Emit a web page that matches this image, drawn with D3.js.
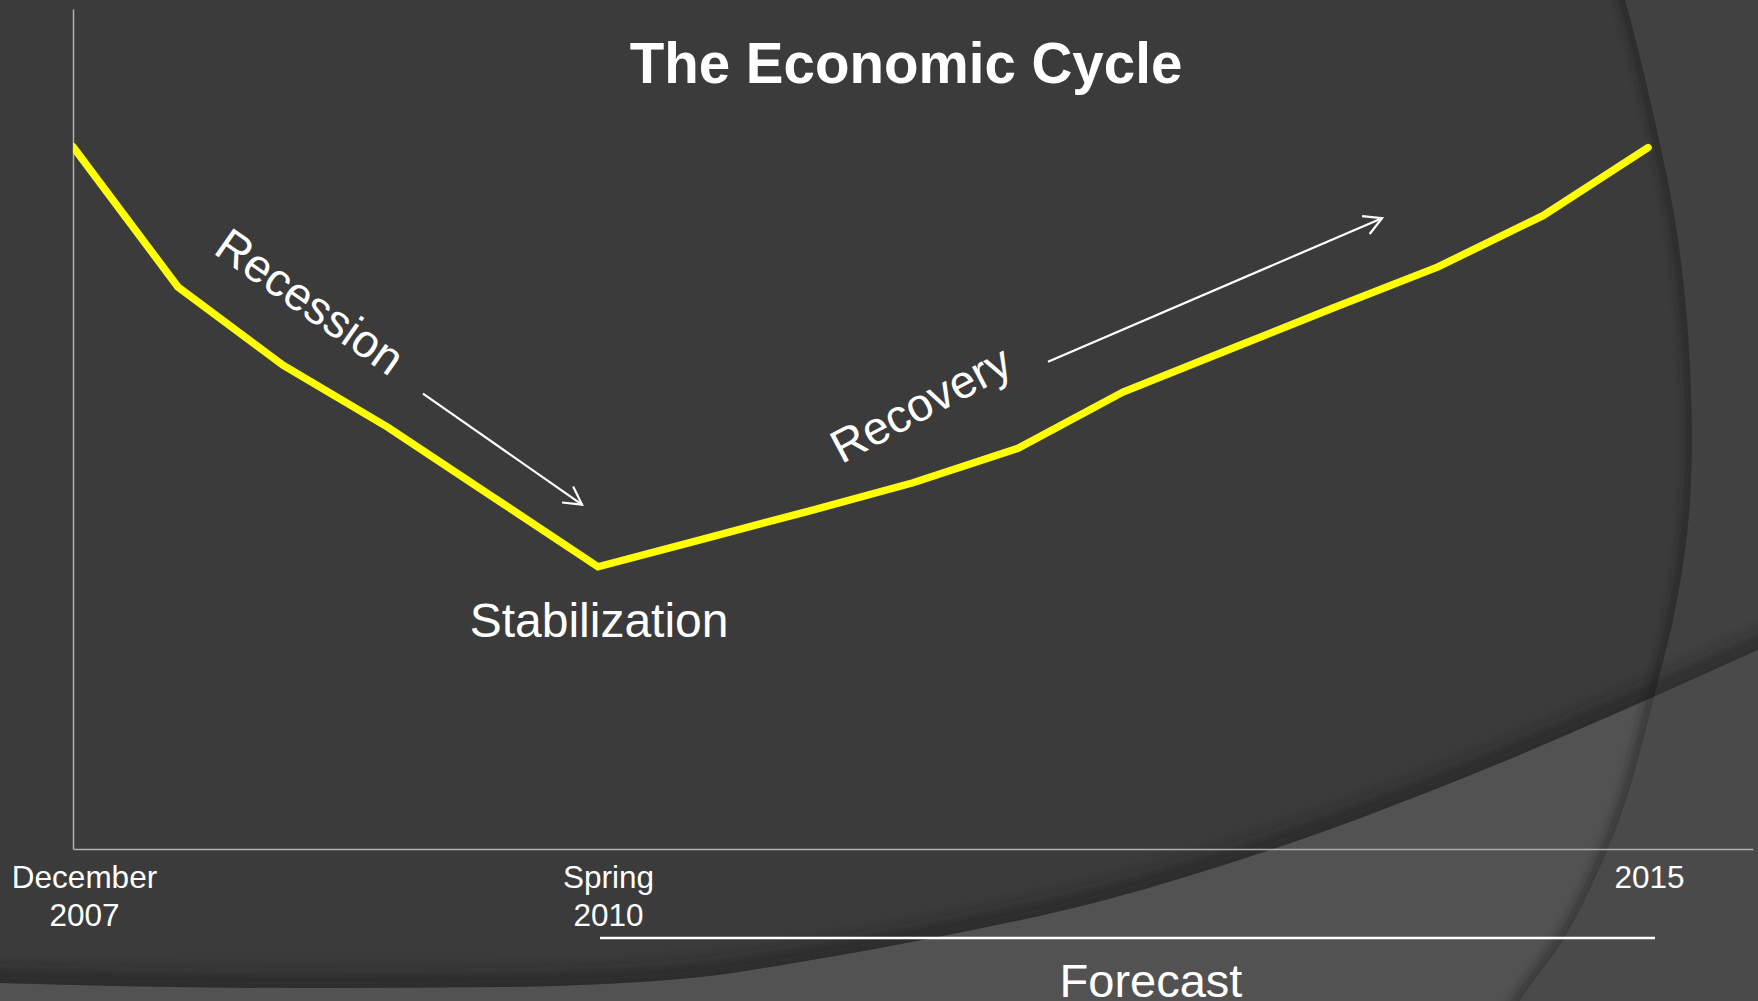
<!DOCTYPE html>
<html><head><meta charset="utf-8">
<script src="https://cdn.jsdelivr.net/npm/d3@7"></script>
<style>html,body{margin:0;padding:0;background:#3b3b3b;overflow:hidden}svg{display:block}</style>
</head><body>
<svg id="chart" width="1758" height="1001"></svg>
<script>
// ---------- data ----------
const chartTitle = "The Economic Cycle";
const periods = [0,1,2,3,4,5,6,7,8,9,10,11,12,13,14,15];
const values = [83.6,66.9,57.6,50.2,41.9,33.6,36.9,40.2,43.6,47.7,54.4,59.4,64.4,69.3,75.4,83.5];
const tickValues = [0,5,15];
const tickLabels = [["December","2007"],["Spring","2010"],["2015"]];
const phaseNames = ["Recession","Recovery","Stabilization"];
const phasePos = [[2.17,63.6],[8.145,51.3],[5.01,25.2]];
const phaseAngles = [35,-28,0];
const arrowFrom = [[3.333,54.2],[9.286,58.0]];
const arrowTo = [[4.848,41.0],[12.467,75.1]];
const forecastSpan = [5,15];
const forecastLabel = "Forecast";
// background decoration outlines (pixels)
const arcPts = [[1600,-80],[1625,0],[1650,100],[1677,233],[1690,367],[1690,500],[1677,600],[1653,700],[1620,817],[1567,933],[1520,1000],[1485,1060]];
const floorPts = [[-30,982],[0,983],[300,988],[500,987],[700,977],[800,962],[922,940],[1105,900],[1276,848],[1500,763],[1653,697],[1758,650],[1800,632]];

// ---------- setup ----------
const W = 1758, H = 1001;
const font = '"Liberation Sans", Arial, Helvetica, sans-serif';
const svg = d3.select("#chart");
const x = d3.scaleLinear().domain([0,16]).range([73,1753]);
const y = d3.scaleLinear().domain([0,100]).range([849,9]);

const defs = svg.append("defs");
function blur(id, sd){
  defs.append("filter").attr("id",id)
    .attr("x","-20%").attr("y","-50%").attr("width","140%").attr("height","200%")
    .append("feGaussianBlur").attr("stdDeviation",sd);
}
blur("blurFloor",9); blur("blurArc",5);

const arcLine = d3.line().curve(d3.curveCatmullRom)(arcPts);
const floorLine = d3.line().curve(d3.curveMonotoneX)(floorPts);
const insideArc = arcLine + "L-100,1100L-100,-100Z";
const outsideArc = arcLine + "L1900,1100L1900,-100Z";
const aboveFloor = floorLine + "L1900,-100L-100,-100Z";
const belowFloor = floorLine + "L1900,1100L-100,1100Z";
function clip(id,d){ defs.append("clipPath").attr("id",id).append("path").attr("d",d); }
clip("cInside",insideArc); clip("cOutside",outsideArc); clip("cAbove",aboveFloor);
defs.append("clipPath").attr("id","cPlot").append("rect").attr("x",x(0)).attr("y",0).attr("width",W).attr("height",H);

// ---------- background ----------
const bg = svg.append("g");
bg.append("rect").attr("width",W).attr("height",H).attr("fill","#3b3b3b");
bg.append("path").attr("d",outsideArc).attr("fill","#414141");
bg.append("g").attr("clip-path","url(#cInside)").append("path").attr("d",belowFloor).attr("fill","#525252");
bg.append("g").attr("clip-path","url(#cOutside)").append("path").attr("d",belowFloor).attr("fill","#4a4a4a");
bg.append("g").attr("clip-path","url(#cAbove)").append("path").attr("d",floorLine)
  .attr("fill","none").attr("stroke","#151515").attr("stroke-width",26).attr("opacity",0.45).attr("filter","url(#blurFloor)");
bg.append("g").attr("clip-path","url(#cInside)").append("path").attr("d",arcLine)
  .attr("fill","none").attr("stroke","#151515").attr("stroke-width",14).attr("opacity",0.4).attr("filter","url(#blurArc)");

// ---------- title ----------
svg.append("text").attr("x",906).attr("y",83).attr("text-anchor","middle")
  .attr("font-family",font).attr("font-weight","bold").attr("font-size",56.5).attr("fill","#ffffff")
  .text(chartTitle);

// ---------- axes ----------
const gy = svg.append("g").attr("transform",`translate(${x(0)},0)`)
  .call(d3.axisLeft(y).tickValues([]).tickSizeOuter(0));
gy.select(".domain").attr("stroke","#b0b0b0").attr("stroke-width",1.5);

const gx = svg.append("g").attr("transform",`translate(0,${y(0)})`)
  .call(d3.axisBottom(x).tickValues(tickValues).tickSize(0).tickSizeOuter(0).tickFormat(""));
gx.select(".domain").attr("stroke","#b0b0b0").attr("stroke-width",1.5);
gx.selectAll(".tick text").remove();
const tickDx = [11,10,1];
gx.selectAll(".tick").each(function(d,i){
  const t = d3.select(this).append("text").attr("text-anchor","middle")
    .attr("font-family",font).attr("font-size",31.5).attr("fill","#ffffff");
  tickLabels[i].forEach((ln,j)=>{
    t.append("tspan").attr("x",tickDx[i]).attr("y",39+j*38).text(ln);
  });
});

// ---------- data line ----------
const line = d3.line().x((d,i)=>x(periods[i])).y(d=>y(d)).curve(d3.curveLinear);
svg.append("g").attr("clip-path","url(#cPlot)").append("path")
  .datum(values).attr("d",line)
  .attr("fill","none").attr("stroke","#ffff00").attr("stroke-width",7.5)
  .attr("stroke-linejoin","miter").attr("stroke-linecap","round");

// ---------- annotations ----------
defs.append("marker").attr("id","arrowHead").attr("markerUnits","userSpaceOnUse")
  .attr("viewBox","-20 -12 24 24").attr("refX",0).attr("refY",0)
  .attr("markerWidth",24).attr("markerHeight",24).attr("orient","auto")
  .append("path").attr("d","M-17.6,-9.7L0,0L-17.6,9.7")
  .attr("fill","none").attr("stroke","#ffffff").attr("stroke-width",2.2);

arrowFrom.forEach((f,i)=>{
  svg.append("line")
    .attr("x1",x(f[0])).attr("y1",y(f[1]))
    .attr("x2",x(arrowTo[i][0])).attr("y2",y(arrowTo[i][1]))
    .attr("stroke","#ffffff").attr("stroke-width",2.2)
    .attr("marker-end","url(#arrowHead)");
});

const phaseSizes = [46.5,46.5,48];
phaseNames.forEach((name,i)=>{
  const px = x(phasePos[i][0]), py = y(phasePos[i][1]);
  svg.append("text")
    .attr("transform",`translate(${px},${py}) rotate(${phaseAngles[i]})`)
    .attr("text-anchor","middle")
    .attr("font-family",font).attr("font-size",phaseSizes[i]).attr("fill","#ffffff")
    .text(name);
});

// ---------- forecast bracket ----------
svg.append("line")
  .attr("x1",x(forecastSpan[0])+2).attr("x2",x(forecastSpan[1])+7)
  .attr("y1",y(0)+89).attr("y2",y(0)+89)
  .attr("stroke","#ffffff").attr("stroke-width",2.5);
svg.append("text")
  .attr("x",(x(forecastSpan[0])+x(forecastSpan[1]))/2+28).attr("y",997)
  .attr("text-anchor","middle").attr("font-family",font).attr("font-size",47).attr("fill","#ffffff")
  .text(forecastLabel);
</script>
</body></html>
